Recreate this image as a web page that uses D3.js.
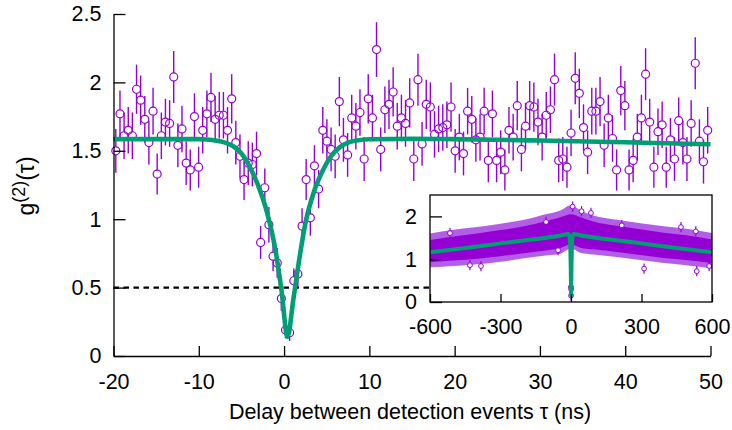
<!DOCTYPE html>
<html>
<head>
<meta charset="utf-8">
<script src="https://cdn.jsdelivr.net/npm/d3@7"></script>
<style>
  body { margin: 0; background: #fff; }
  svg { font-family: "Liberation Sans", Arial, sans-serif; }
</style>
</head>
<body>
<svg id="chart" width="732" height="430"></svg>
<script>
/*
  g2 autocorrelation plot with inset (long time scale)
*/

// main histogram bins (ns)
var tau = [-19.73,-19.24,-18.76,-18.27,-17.79,-17.30,-16.82,-16.33,-15.85,-15.36,
  -14.88,-14.39,-13.91,-13.42,-12.94,-12.45,-11.97,-11.48,-11.00,-10.51,
  -10.02,-9.54,-9.05,-8.57,-8.08,-7.60,-7.11,-6.63,-6.14,-5.66,
  -5.17,-4.69,-4.20,-3.72,-3.23,-2.75,-2.26,-1.78,-1.29,-0.80,
  -0.32,0.17,0.65,1.14,1.62,2.11,2.59,3.08,3.56,4.05,
  4.54,5.02,5.51,5.99,6.48,6.96,7.45,7.93,8.42,8.90,
  9.39,9.87,10.36,10.84,11.33,11.82,12.30,12.79,13.27,13.76,
  14.24,14.73,15.21,15.70,16.18,16.67,17.15,17.64,18.12,18.61,
  19.09,19.58,20.06,20.55,21.04,21.52,22.01,22.49,22.98,23.46,
  23.95,24.43,24.92,25.40,25.89,26.37,26.86,27.34,27.83,28.31,
  28.80,29.29,29.77,30.26,30.74,31.23,31.71,32.20,32.68,33.17,
  33.65,34.14,34.62,35.11,35.59,36.08,36.56,37.05,37.53,38.02,
  38.51,38.99,39.48,39.96,40.45,40.93,41.42,41.90,42.39,42.87,
  43.36,43.84,44.33,44.81,45.30,45.78,46.27,46.76,47.24,47.73,
  48.21,48.70,49.18,49.67];

// measured g2 values
var g2 = [1.50,1.77,1.61,1.65,1.61,1.95,1.87,1.73,1.56,1.79,
  1.33,1.61,1.71,1.70,2.04,1.54,1.66,1.41,1.36,1.75,
  1.38,1.65,1.77,1.89,1.73,1.76,1.76,1.65,1.88,1.56,
  1.46,1.29,1.41,1.40,1.48,0.83,1.23,0.96,0.73,0.68,
  0.42,0.19,0.17,0.55,0.60,0.95,1.29,1.01,1.39,1.22,
  1.65,1.57,1.51,1.46,1.86,1.58,1.47,1.74,1.68,1.78,
  1.44,1.88,1.74,2.24,1.51,1.80,1.84,1.93,1.68,1.74,
  1.70,1.85,1.44,2.02,1.55,1.84,1.82,1.62,1.66,1.67,
  1.69,1.82,1.50,1.60,1.48,1.79,1.73,1.58,1.60,1.79,
  1.43,1.77,1.43,1.49,1.36,1.65,1.60,1.83,1.51,1.68,
  1.83,1.82,1.71,1.60,1.76,1.80,2.02,1.43,1.44,1.38,
  1.63,2.03,1.92,1.67,1.49,1.79,1.79,1.86,1.54,1.74,
  1.59,1.36,1.94,1.83,1.36,1.43,1.60,1.74,2.06,1.71,
  1.38,1.64,1.69,1.38,1.58,1.44,1.72,1.56,1.44,1.70,
  2.14,1.57,1.42,1.65];

// error bar half lengths
var err = [0.16,0.17,0.17,0.17,0.17,0.18,0.18,0.17,0.16,0.17,
  0.15,0.17,0.17,0.17,0.19,0.16,0.17,0.16,0.15,0.17,
  0.15,0.17,0.17,0.18,0.17,0.17,0.17,0.17,0.18,0.16,
  0.16,0.15,0.16,0.16,0.16,0.12,0.14,0.13,0.11,0.11,
  0.09,0.06,0.06,0.09,0.10,0.13,0.15,0.13,0.15,0.14,
  0.17,0.16,0.16,0.16,0.18,0.16,0.16,0.17,0.17,0.17,
  0.16,0.18,0.17,0.20,0.16,0.17,0.18,0.18,0.17,0.17,
  0.17,0.18,0.16,0.19,0.16,0.18,0.18,0.17,0.17,0.17,
  0.17,0.18,0.16,0.17,0.16,0.17,0.17,0.16,0.17,0.17,
  0.16,0.17,0.16,0.16,0.15,0.17,0.17,0.18,0.16,0.17,
  0.18,0.18,0.17,0.17,0.17,0.17,0.19,0.16,0.16,0.15,
  0.17,0.19,0.18,0.17,0.16,0.17,0.17,0.18,0.16,0.17,
  0.17,0.15,0.18,0.18,0.15,0.16,0.17,0.17,0.19,0.17,
  0.15,0.17,0.17,0.15,0.16,0.16,0.17,0.16,0.16,0.17,
  0.19,0.16,0.16,0.17];

// fit curve
var fitTau = [-20,-10,-9,-8,-7,-6,-5,-4,-3,-2,-1,-0.3,0.4,1.1,1.84,2.5,3.5,4.5,5.5,6.5,7.5,8.5,10,15,20,30,40,50];
var fitG = [1.585,1.585,1.582,1.575,1.562,1.535,1.48,1.38,1.24,1.05,0.77,0.48,0.14,0.42,0.73,0.97,1.20,1.35,1.46,1.525,1.56,1.575,1.584,1.587,1.585,1.575,1.562,1.548];

// inset: long time scale
var insetBandTau = [-600,-500,-400,-300,-200,-100,-45,0,40,95,195,295,395,490,600];
var insetBandHi = [1.60,1.69,1.75,1.83,1.92,2.06,2.14,2.26,2.14,2.02,1.92,1.84,1.77,1.71,1.61];
var insetBandLo = [0.81,0.84,0.88,0.94,1.02,1.09,1.13,1.25,1.15,1.11,1.05,0.98,0.91,0.86,0.78];
var insetCoreHi = [1.45,1.53,1.60,1.68,1.77,1.90,1.98,2.05,1.98,1.88,1.78,1.70,1.62,1.56,1.46];
var insetCoreLo = [0.93,0.97,1.01,1.07,1.14,1.21,1.26,1.35,1.27,1.23,1.17,1.10,1.03,0.98,0.91];
var insetOutTau = [-515,-430,-383,-106,-55,-0.3,0.2,0.7,7,45,85,216,311,468,531,535,588];
var insetOutG = [1.61,0.86,0.84,1.87,1.21,0.35,0.15,0.30,2.23,2.12,2.08,1.79,0.78,1.75,1.65,0.72,0.84];
var insetFitTau = [-600,-450,-300,-150,-50,-10,-5,-2.75,-1.68,-0.89,-0.3,0.4,1.25,1.84,2.5,3.5,5.5,10,50,150,300,450,600];
var insetFitG = [1.16,1.26,1.37,1.47,1.55,1.59,1.47,1.21,0.97,0.73,0.48,0.14,0.48,0.73,0.97,1.20,1.47,1.59,1.55,1.47,1.37,1.26,1.16];

var xTicks = [-20,-10,0,10,20,30,40,50];
var yTicks = [0,0.5,1,1.5,2,2.5];
var insetXTicks = [-600,-300,0,300,600];
var insetYTicks = [0,1,2];

var purple = '#9400d3';
var green = '#009e73';

var svg = d3.select('#chart');

/*
main plot
*/
var x = d3.scaleLinear().domain([-20, 50]).range([113.5, 710.5]);
var y = d3.scaleLinear().domain([0, 2.5]).range([356, 14]);

var pts = tau.map(function(t, i) { return {t: t, g: g2[i], e: err[i]}; });
var r = 4;

var dataG = svg.append('g');
// error bars stop at the circle edge
dataG.selectAll('line.up').data(pts).enter().append('line')
  .attr('x1', function(d) { return x(d.t); })
  .attr('x2', function(d) { return x(d.t); })
  .attr('y1', function(d) { return y(d.g + d.e); })
  .attr('y2', function(d) { return Math.max(y(d.g + d.e), y(d.g) - r); })
  .attr('stroke', purple).attr('stroke-width', 1.4);
dataG.selectAll('line.down').data(pts).enter().append('line')
  .attr('x1', function(d) { return x(d.t); })
  .attr('x2', function(d) { return x(d.t); })
  .attr('y1', function(d) { return Math.min(y(d.g - d.e), y(d.g) + r); })
  .attr('y2', function(d) { return y(d.g - d.e); })
  .attr('stroke', purple).attr('stroke-width', 1.4);
dataG.selectAll('circle').data(pts).enter().append('circle')
  .attr('cx', function(d) { return x(d.t); })
  .attr('cy', function(d) { return y(d.g); })
  .attr('r', r)
  .attr('fill', 'none')
  .attr('stroke', purple).attr('stroke-width', 1.2);

// dashed line at g2 = 0.5
svg.append('line')
  .attr('x1', x(-20)).attr('x2', 430)
  .attr('y1', y(0.5)).attr('y2', y(0.5))
  .attr('stroke', '#000').attr('stroke-width', 2.2)
  .attr('stroke-dasharray', '5.5,4.5');

// fit
var fitLine = d3.line()
  .x(function(d, i) { return x(fitTau[i]); })
  .y(function(d) { return y(d); })
  .curve(d3.curveMonotoneX);
svg.append('path').datum(fitG)
  .attr('d', fitLine)
  .attr('fill', 'none')
  .attr('stroke', green).attr('stroke-width', 4.6)
  .attr('stroke-linejoin', 'round');

// axes
var xAxis = svg.append('g').attr('transform', 'translate(0,356)')
  .call(d3.axisBottom(x).tickValues(xTicks).tickSize(-10).tickSizeOuter(0).tickPadding(18)
    .tickFormat(function(d) { return String(d); }));
var yAxis = svg.append('g').attr('transform', 'translate(113.5,0)')
  .call(d3.axisLeft(y).tickValues(yTicks).tickSize(-12).tickSizeOuter(0).tickPadding(12)
    .tickFormat(function(d) { return String(d); }));
[xAxis, yAxis].forEach(function(a) {
  a.attr('font-family', null).attr('font-size', null);
  a.selectAll('text').attr('font-size', 21.5).attr('fill', '#000');
  a.selectAll('line, path').attr('stroke', '#000').attr('stroke-width', 1.3);
});

// axis titles
svg.append('text')
  .attr('x', 410).attr('y', 419)
  .attr('text-anchor', 'middle')
  .attr('font-size', 21.5)
  .text('Delay between detection events \u03c4 (ns)');

var yTitle = svg.append('text')
  .attr('transform', 'translate(34,186) rotate(-90)')
  .attr('text-anchor', 'middle')
  .attr('font-size', 23);
yTitle.append('tspan').text('g');
yTitle.append('tspan').attr('dy', -9).attr('font-size', 18).text('(2)');
yTitle.append('tspan').attr('dy', 9).text('(\u03c4)');

/*
inset
*/
var xi = d3.scaleLinear().domain([-600, 600]).range([430, 712]);
var yi = d3.scaleLinear().domain([0, 2.5]).range([302, 195]);

svg.append('rect')
  .attr('x', 430).attr('y', 195).attr('width', 282).attr('height', 107)
  .attr('fill', '#fff');

svg.append('clipPath').attr('id', 'insetClip')
  .append('rect').attr('x', 430).attr('y', 195).attr('width', 282).attr('height', 107);

var inset = svg.append('g').attr('clip-path', 'url(#insetClip)');

var band = d3.area()
  .x(function(d, i) { return xi(insetBandTau[i]); })
  .y0(function(d) { return yi(d[0]); })
  .y1(function(d) { return yi(d[1]); })
  .curve(d3.curveMonotoneX);
inset.append('path')
  .datum(insetBandLo.map(function(v, i) { return [v, insetBandHi[i]]; }))
  .attr('d', band)
  .attr('fill', '#b35ee6');
inset.append('path')
  .datum(insetCoreLo.map(function(v, i) { return [v, insetCoreHi[i]]; }))
  .attr('d', band)
  .attr('fill', purple);

var outPts = insetOutTau.map(function(t, i) { return {t: t, g: insetOutG[i]}; });
inset.selectAll('line.out').data(outPts).enter().append('line')
  .attr('x1', function(d) { return xi(d.t); })
  .attr('x2', function(d) { return xi(d.t); })
  .attr('y1', function(d) { return yi(d.g + 0.12); })
  .attr('y2', function(d) { return yi(d.g - 0.12); })
  .attr('stroke', purple).attr('stroke-width', 1.2);
inset.selectAll('circle').data(outPts).enter().append('circle')
  .attr('cx', function(d) { return xi(d.t); })
  .attr('cy', function(d) { return yi(d.g); })
  .attr('r', 2.4)
  .attr('fill', '#fff')
  .attr('stroke', purple).attr('stroke-width', 1);

var insetLine = d3.line()
  .x(function(d, i) { return xi(insetFitTau[i]); })
  .y(function(d) { return yi(d); })
  .curve(d3.curveMonotoneX);
inset.append('path').datum(insetFitG)
  .attr('d', insetLine)
  .attr('fill', 'none')
  .attr('stroke', green).attr('stroke-width', 4)
  .attr('stroke-linejoin', 'round');

// inset frame and ticks
svg.append('rect')
  .attr('x', 430).attr('y', 195).attr('width', 282).attr('height', 107)
  .attr('fill', 'none').attr('stroke', '#000').attr('stroke-width', 1.3);

var ixAxis = svg.append('g').attr('transform', 'translate(0,302)')
  .call(d3.axisBottom(xi).tickValues(insetXTicks).tickSize(-8).tickSizeOuter(0).tickPadding(17)
    .tickFormat(function(d) { return String(d); }));
var iyAxis = svg.append('g').attr('transform', 'translate(430,0)')
  .call(d3.axisLeft(yi).tickValues(insetYTicks).tickSize(-12).tickSizeOuter(0).tickPadding(13)
    .tickFormat(function(d) { return String(d); }));
[ixAxis, iyAxis].forEach(function(a) {
  a.attr('font-family', null).attr('font-size', null);
  a.select('.domain').remove();
  a.selectAll('text').attr('font-size', 21.5).attr('fill', '#000');
  a.selectAll('line').attr('stroke', '#000').attr('stroke-width', 1.3);
});
</script>
</body>
</html>
